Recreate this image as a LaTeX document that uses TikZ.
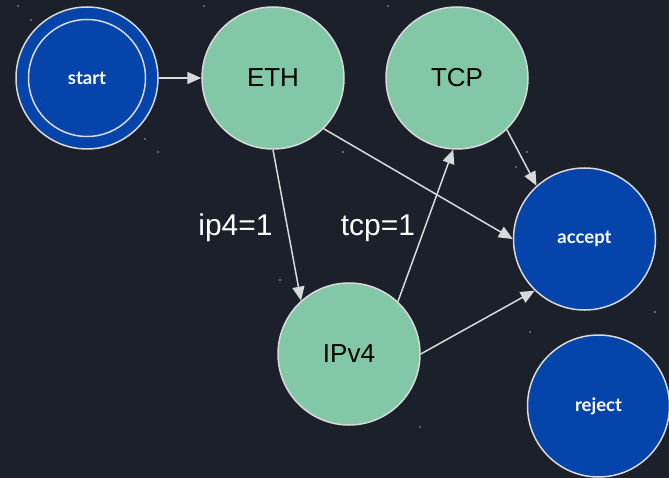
\documentclass[tikz,border=0pt]{standalone}
\usepackage{fontspec}
\setmainfont{Liberation Sans}
\newfontfamily\latofont{Lato}
\usetikzlibrary{arrows.meta}
\definecolor{bg}{HTML}{1C202B}
\definecolor{nodeblue}{HTML}{0544AB}
\definecolor{nodegreen}{HTML}{82C8A7}
\definecolor{edgegray}{HTML}{D9D9D9}
\tikzset{
  state/.style={circle, draw=edgegray, line width=1.5pt, minimum size=142pt, inner sep=0pt},
  greenstate/.style={state, fill=nodegreen, text=black, font=\fontsize{26}{30}\selectfont},
  bluestate/.style={state, fill=nodeblue, text=white, font=\latofont\bfseries\fontsize{18.5}{22}\selectfont},
  edge/.style={draw=edgegray, line width=1.5pt, -{Triangle[length=14pt,width=12pt]}},
  elabel/.style={text=white, font=\fontsize{30}{34}\selectfont},
  speck/.style={fill=gray!70, draw=none}
}
\begin{document}
\begin{tikzpicture}[x=1pt,y=-1pt]
\fill[bg] (0,0) rectangle (669,478);
\useasboundingbox (0,0) rectangle (669,478);
% specks
\foreach \p in {(18,6),(31,20),(145,139),(158,152),(204,6),(388,6),(343,152),(527,152),(516,167),(655,312),(530,332),(280,280),(420,427)}
  \fill[speck] \p circle (0.8);
% nodes
\node[bluestate] (start) at (87,78) {};
\node[circle, draw=edgegray, line width=1.5pt, minimum size=117pt, inner sep=0pt, text=white, font=\latofont\bfseries\fontsize{18.5}{22}\selectfont] (startin) at (87,78) {start};
\node[greenstate] (eth) at (273,78) {ETH};
\node[greenstate] (tcp) at (457,78) {TCP};
\node[greenstate] (ipv4) at (349,354) {IPv4};
\node[bluestate] (accept) at (584.5,239) {accept};
\node[bluestate] (reject) at (598.5,406) {reject};
% edges
\draw[edge] (start.east) -- (eth.west);
\draw[edge] (eth.south) -- (ipv4.132);
\draw[edge] (ipv4.47) -- (tcp.-93);
\draw[edge] (eth.-45) -- (accept.180);
\draw[edge] (tcp.-46) -- (accept.132);
\draw[edge] (ipv4.0) -- (accept.226);
% labels
\node[elabel] (l1) at (235.5,228) {ip4=1};
\node[elabel] (l2) at (378,228) {tcp=1};
\end{tikzpicture}
\end{document}
